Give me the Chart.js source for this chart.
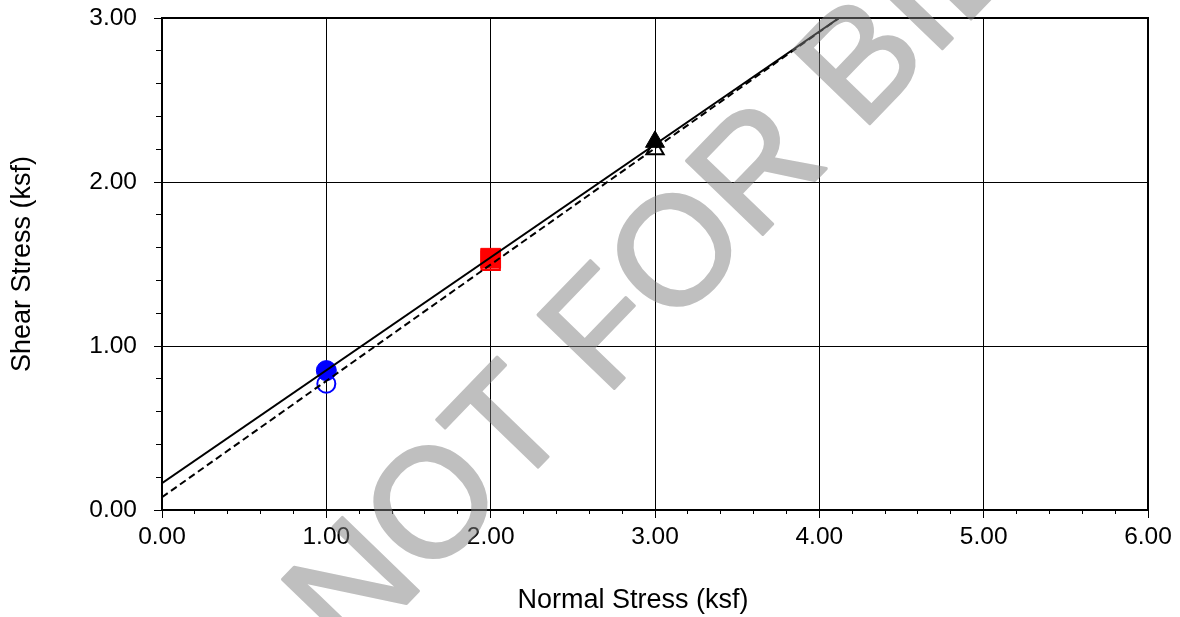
<!DOCTYPE html>
<html>
<head>
<meta charset="utf-8">
<script src="https://cdn.jsdelivr.net/npm/chart.js@4.4.1/dist/chart.umd.min.js"></script>
<style>
  html, body { margin: 0; padding: 0; background: #ffffff; }
  #wrap { width: 1180px; height: 617px; position: relative; }
</style>
</head>
<body>
<div id="wrap"><canvas id="chart" width="1180" height="617"></canvas></div>
<script>
// Direct shear results: normal stress vs. shear stress (ksf)
const normalStress = [1.00, 2.00, 3.00];
const peakShear = [0.85, 1.535, 2.245];
const residualShear = [0.77, 1.52, 2.20];

// Failure envelopes (end points of each fitted line)
const peakEnvelopeX = [0.00, 4.12];
const peakEnvelopeY = [0.164, 3.00];
const residualEnvelopeX = [0.00, 4.12];
const residualEnvelopeY = [0.078, 3.00];

// Axis ranges and tick steps
const xRange = [0, 6];
const yRange = [0, 3];
const majorStep = 1;
const minorStep = 0.2;

const xTitle = 'Normal Stress (ksf)';
const yTitle = 'Shear Stress (ksf)';
const watermarkText = 'NOT FOR BIDDING';

const FONT = "'Liberation Sans', Arial, sans-serif";

const toPoints = (xs, ys) => xs.map((x, i) => ({ x, y: ys[i] }));

// One colour / shape per specimen
const specimenColors = ['#0000ff', '#ff0000', '#000000'];
const specimenStyles = ['circle', 'rect', 'triangle'];
const specimenRadii = [10, 14, 11];

const datasets = [
  {
    label: 'Peak envelope',
    data: toPoints(peakEnvelopeX, peakEnvelopeY),
    showLine: true,
    borderColor: '#000000',
    borderWidth: 2,
    pointRadius: 0,
    fill: false
  },
  {
    label: 'Residual envelope',
    data: toPoints(residualEnvelopeX, residualEnvelopeY),
    showLine: true,
    borderColor: '#000000',
    borderWidth: 2,
    borderDash: [7, 4],
    pointRadius: 0,
    fill: false
  }
];

normalStress.forEach((x, i) => {
  datasets.push({
    label: 'Peak ' + (i + 1),
    data: [{ x, y: peakShear[i] }],
    showLine: false,
    pointStyle: specimenStyles[i],
    pointRadius: specimenRadii[i],
    pointHoverRadius: specimenRadii[i],
    pointBackgroundColor: specimenColors[i],
    pointBorderColor: specimenColors[i],
    pointBorderWidth: 1
  });
});
normalStress.forEach((x, i) => {
  datasets.push({
    label: 'Residual ' + (i + 1),
    data: [{ x, y: residualShear[i] }],
    showLine: false,
    pointStyle: specimenStyles[i],
    pointRadius: specimenRadii[i] - 1,
    pointHoverRadius: specimenRadii[i] - 1,
    pointBackgroundColor: 'rgba(0,0,0,0)',
    pointBorderColor: specimenColors[i],
    pointBorderWidth: 2
  });
});

// Watermark is built on its own layer so the thickened letters stay evenly translucent
function drawWatermark(ctx, w, h) {
  const layer = document.createElement('canvas');
  layer.width = w;
  layer.height = h;
  const lc = layer.getContext('2d');
  lc.translate(350, 662);
  lc.rotate(-46 * Math.PI / 180);
  lc.font = '154px ' + FONT;
  lc.fillStyle = '#808080';
  lc.strokeStyle = '#808080';
  lc.lineWidth = 3;
  lc.lineJoin = 'round';
  lc.textAlign = 'left';
  lc.textBaseline = 'alphabetic';
  lc.fillText(watermarkText, 0, 0);
  lc.strokeText(watermarkText, 0, 0);
  ctx.save();
  ctx.globalAlpha = 0.5;
  ctx.drawImage(layer, 0, 0);
  ctx.restore();
}

// Frame around the plotting area, x-axis title and the diagonal watermark
const framePlugin = {
  id: 'frame',
  afterDraw(chart) {
    const { ctx, chartArea: a } = chart;
    ctx.save();
    ctx.strokeStyle = '#000000';
    ctx.lineWidth = 2;
    ctx.strokeRect(a.left, a.top, a.right - a.left, a.bottom - a.top);
    ctx.restore();

    ctx.save();
    ctx.font = '27px ' + FONT;
    ctx.fillStyle = '#000000';
    ctx.textAlign = 'center';
    ctx.textBaseline = 'middle';
    ctx.fillText(xTitle, 633, 601);
    ctx.restore();

    drawWatermark(ctx, chart.width, chart.height);
  }
};

const tickFont = { family: FONT, size: 24.5 };
const titleFont = { family: FONT, size: 27 };

new Chart(document.getElementById('chart'), {
  type: 'scatter',
  data: { datasets },
  plugins: [framePlugin],
  options: {
    responsive: false,
    animation: false,
    events: [],
    layout: { autoPadding: false, padding: { left: 0, right: 32, top: 18, bottom: 0 } },
    plugins: {
      legend: { display: false },
      tooltip: { enabled: false }
    },
    scales: {
      x: {
        type: 'linear',
        position: 'bottom',
        weight: 1,
        min: xRange[0],
        max: xRange[1],
        afterFit: (s) => { s.height = 107; },
        ticks: {
          stepSize: majorStep,
          color: '#000000',
          font: tickFont,
          padding: 5,
          maxRotation: 0,
          callback: (v) => Number(v).toFixed(2)
        },
        grid: { color: '#000000', lineWidth: 1, tickLength: 8, tickColor: '#000000' },
        border: { color: '#000000', width: 2 },
        title: { display: false }
      },
      xMinor: {
        type: 'linear',
        position: 'bottom',
        weight: 0,
        min: xRange[0],
        max: xRange[1],
        afterFit: (s) => { s.height = 0; },
        ticks: { display: false, stepSize: minorStep },
        grid: { drawOnChartArea: false, tickLength: 4, tickColor: '#000000', lineWidth: 1 },
        border: { display: false }
      },
      y: {
        type: 'linear',
        position: 'left',
        weight: 1,
        min: yRange[0],
        max: yRange[1],
        afterFit: (s) => {
          s.width = 162;
          s.paddingTop = 0;
          s.paddingBottom = 0;
        },
        ticks: {
          stepSize: majorStep,
          color: '#000000',
          font: tickFont,
          padding: 17,
          callback: (v) => Number(v).toFixed(2)
        },
        grid: { color: '#000000', lineWidth: 1, tickLength: 8, tickColor: '#000000' },
        border: { color: '#000000', width: 2 },
        title: {
          display: true,
          text: yTitle,
          color: '#000000',
          font: titleFont,
          padding: { top: 6, bottom: 0 }
        }
      },
      yMinor: {
        type: 'linear',
        position: 'left',
        weight: 0,
        min: yRange[0],
        max: yRange[1],
        afterFit: (s) => { s.width = 0; },
        ticks: { display: false, stepSize: minorStep },
        grid: { drawOnChartArea: false, tickLength: 6, tickColor: '#000000', lineWidth: 1 },
        border: { display: false }
      }
    }
  }
});
</script>
</body>
</html>
